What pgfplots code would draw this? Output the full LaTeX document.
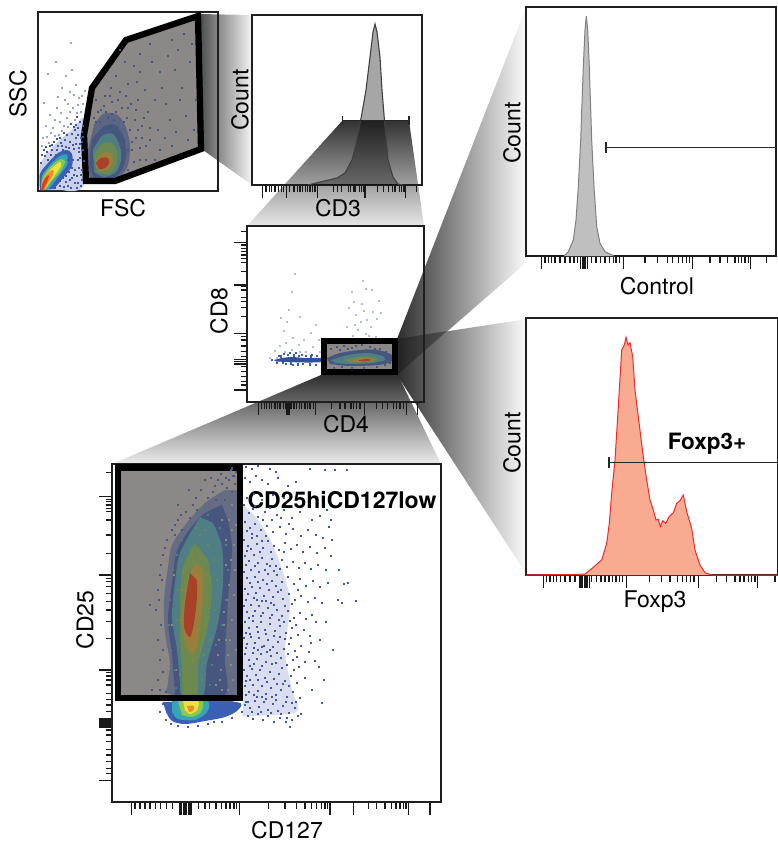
\documentclass[border=0pt]{standalone}
\usepackage{pgfplots}
\pgfplotsset{compat=1.18}
\usepackage{fontspec}
\setmainfont{TeX Gyre Heros}
\definecolor{gatefill}{HTML}{8C8888}
\definecolor{dotblue}{HTML}{3F57A8}
\definecolor{mblue}{HTML}{47567F}
\definecolor{mteal}{HTML}{4F7F84}
\definecolor{mgreen}{HTML}{6C8A50}
\definecolor{molive}{HTML}{9A7E3C}
\definecolor{mred}{HTML}{A8402A}
\definecolor{bblue}{HTML}{3A5FB5}
\definecolor{bcyan}{HTML}{35A5B5}
\definecolor{bgreen}{HTML}{8CC850}
\definecolor{byellow}{HTML}{EFE23A}
\definecolor{borange}{HTML}{F08A2A}
\definecolor{bred}{HTML}{E8391F}
\pgfplotsset{
 panel/.style={scale only axis,y dir=reverse,clip=false,
  axis line style={line width=1.1pt,black!88},
  xtick pos=lower,ytick pos=left,tick align=outside,
  xticklabels={},yticklabels={},
  major tick length=13pt,minor tick length=6.5pt,
  tick style={line width=1.1pt,black!90},
  minor tick style={line width=1.1pt,black!90},
  xtick=\empty,ytick=\empty,
  label style={font=\fontsize{23}{26}\selectfont,anchor=center},
  y label style={rotate=0}},
 blob/.style={draw=none,fill=#1,smooth,tension=0.5,forget plot},
 poly/.style={draw=none,fill=#1,forget plot},
 cloud/.style={only marks,color=#1,mark=square*,mark size=0.55pt,mark options={solid,fill=#1,draw=#1,line width=0pt},forget plot},
 gate/.style={draw=black,line width=6.3pt,line join=miter,miter limit=10,fill=none,forget plot},
 gatebar/.style={draw=black!85,line width=1.1pt,forget plot}}
\begin{document}
\begin{tikzpicture}
\path[use as bounding box] (0,0) rectangle (778pt,-846pt);
% ---- funnels -----
\begin{axis}[at={(0pt,-846pt)},anchor=south west,scale only axis,width=778pt,height=846pt,
 xmin=0,xmax=778,ymin=0,ymax=846,y dir=reverse,hide axis,clip=true]
\addplot[draw=none,left color=black!72,right color=black!4,forget plot] coordinates {(198,14)(252,15)(252,185)(203,150)} -- cycle;
\addplot[draw=none,left color=black!82,middle color=black!48,right color=black!1,forget plot] coordinates {(397,339)(527,5)(527,262)(397,375)} -- cycle;
\addplot[draw=none,left color=black!82,middle color=black!48,right color=black!1,forget plot] coordinates {(397,339)(527,319)(527,575)(397,375)} -- cycle;
\addplot[draw=none,left color=black!86,right color=black!68,forget plot] coordinates {(397,339)(447,331)(397,375)} -- cycle;
\addplot[draw=none,top color=black!80,bottom color=black!9,forget plot] coordinates {(342,121)(409,121)(424,226)(247,226)} -- cycle;
\addplot[draw=none,top color=black!82,bottom color=black!7,forget plot] coordinates {(321,375)(398,375)(441,464)(112,464)} -- cycle;
\end{axis}
% ---- FSC/SSC -----
\begin{axis}[panel,at={(38pt,-191pt)},anchor=south west,width=180pt,height=179pt,
 xmin=38,xmax=218,ymin=12,ymax=191,
 xlabel={FSC},ylabel={SSC},
 x label style={at={(axis cs:123,208)}},y label style={at={(axis cs:18,94)},rotate=0}]
\addplot[poly=gatefill] coordinates {(197,18)(126,40)(92,88)(84,135)(86,181)(115,181)(201,149)} -- cycle;
\addplot[cloud=dotblue!55] coordinates {(48,74)(71,43)(56,62)(62,88)(44,103)(50,115)(57,108)(65,100)(70,92)(76,85)(79,98)(73,108)(67,118)(60,122)(53,128)(47,137)(42,146)(49,143)(55,136)(62,131)(68,127)(75,120)(81,112)(83,104)(85,91)(66,76)(58,97)(72,70)(61,113)(55,120)(70,112)(78,105)(64,126)(46,126)(51,133)(74,95)(82,96)(68,104)(77,113)(59,135)(43,138)};
\addplot[blob=dotblue!28] coordinates {(40,190)(40,165)(50,150)(62,138)(74,128)(84,120)(84,185)(62,190)} -- cycle;
\addplot[cloud=dotblue] coordinates {(78,128)(72,134)(65,140)(58,146)(52,150)(45,156)(41,163)(48,160)(56,155)(63,150)(70,142)(76,138)(82,132)(80,144)(74,149)(68,153)(70,165)(75,170)(78,160)(81,175)(72,178)(66,182)(60,186)(75,183)(81,186)(79,152)(44,150)(50,146)(61,143)(67,135)(74,127)(80,122)(83,126)(77,117)(71,124)(64,133)(57,139)(51,155)(69,172)(73,160)(77,176)(68,186)(63,178)(79,168)(83,150)(84,161)(82,180)(71,188)(77,188)(55,188)(60,181)(66,176)(71,155)(76,144)(81,138)(62,146)(54,142)(46,147)(73,145)(78,135)(69,148)(60,138)(52,145)(42,155)(75,130)(82,142)(80,158)(74,175)(78,183)(70,180)(64,187)(68,160)(72,168)(82,170)(79,148)(66,147)(57,150)(47,152)(83,137)(76,125)};
\addplot[blob=bblue] coordinates {(40,190)(40,174)(48,163)(58,153)(67,150)(72,154)(72,166)(63,178)(54,189)} -- cycle;
\addplot[blob=bcyan] coordinates {(41,190)(42,176)(50,165)(60,156)(67,155)(67,165)(58,177)(49,189)} -- cycle;
\addplot[blob=bgreen] coordinates {(41,190)(43,177)(52,165)(61,159)(65,162)(60,172)(52,181)(46,189)} -- cycle;
\addplot[blob=byellow] coordinates {(42,189)(45,177)(52,168)(60,162)(61,166)(55,175)(49,183)(45,189)} -- cycle;
\addplot[blob=borange] coordinates {(41,190)(44,179)(49,172)(53,170)(53,175)(48,183)(44,190)} -- cycle;
\addplot[blob=bred] coordinates {(41,190)(43,182)(47,176)(49,176)(47,182)(43,190)} -- cycle;
\addplot[cloud=mblue] coordinates {(120,50)(134,66)(150,44)(172,40)(190,62)(182,88)(160,72)(145,90)(128,84)(111,88)(104,106)(118,100)(131,104)(148,112)(166,104)(186,116)(176,132)(158,130)(142,126)(127,118)(112,114)(100,122)(108,126)(118,128)(130,130)(136,138)(124,140)(146,146)(160,150)(172,146)(155,160)(140,160)(128,170)(96,100)(98,112)(94,118)(105,96)(116,76)(137,82)(152,62)(168,56)(184,34)(192,44)(196,100)(194,130)(175,70)(125,62)(140,54)(162,88)(150,128)(122,108)(114,120)(135,120)(132,150)(142,138)(120,168)(106,112)(112,102)(126,96)(138,100)(144,118)(136,110)(120,92)(110,96)(101,110)(96,122)(140,148)(134,162)(128,150)(138,130)(150,140)(146,160)(124,152)(132,142)(116,112)(108,118)(128,108)(124,122)(140,72)(155,100)(170,120)(180,100)(165,138)(188,140)(178,50)};
\addplot[blob=mblue!70!gatefill] coordinates {(94,125)(103,114)(116,114)(125,125)(130,145)(128,165)(120,176)(100,181)(90,178)(88,150)} -- cycle;
\addplot[blob=mblue] coordinates {(92,140)(103,127)(115,125)(124,138)(126,155)(122,170)(112,178)(95,178)(89,165)} -- cycle;
\addplot[blob=mteal] coordinates {(93,150)(102,136)(113,134)(120,147)(121,160)(116,172)(104,177)(94,172)} -- cycle;
\addplot[blob=mgreen] coordinates {(94,155)(102,144)(112,143)(117,153)(116,166)(108,174)(97,172)} -- cycle;
\addplot[blob=molive] coordinates {(95,160)(102,153)(110,153)(113,160)(110,168)(101,171)(96,167)} -- cycle;
\addplot[blob=mred] coordinates {(96,163)(101,158)(108,158)(109,163)(105,168)(99,169)} -- cycle;
\addplot[gate] coordinates {(198,16)(126,40)(92,88)(84,135)(86,181)(115,181)(201,149)} -- cycle;
\end{axis}
% ---- CD3 ----
\begin{axis}[panel,at={(252pt,-185pt)},anchor=south west,width=170pt,height=170pt,
 xmin=252,xmax=422,ymin=15,ymax=185,
 xlabel={CD3},ylabel={Count},
 x label style={at={(axis cs:338,208)}},y label style={at={(axis cs:240,100)}},
 xtick={262.7,286.7,317.3,365,405.3},
 minor xtick={266,269.3,271.7,275,278.3,281.7,283.3,289.3,294,297.3,300,302.7,305.3,307.3,310,312.7,315,333.3,337.3,341.7,348.3,350.7,353.3,355,359.3,361.7,364,377.3,383.3,388.3,392.7,395,399.3,401.7,404,416.7}]
\addplot[draw=black!75,line width=1.1pt,fill=black,fill opacity=.35,forget plot] coordinates {(308,185)(320,182)(337,178)(345,173)(352,160)(357,140)(362,113)(366,90)(370,57)(373,32)(375,24)(377,32)(380,57)(382,90)(385,127)(388,160)(393,177)(398,184)(403,185)};
\addplot[gatebar] coordinates {(342.3,120.5)(409,120.5)};
\addplot[gatebar] coordinates {(342.3,116)(342.3,125)};
\addplot[gatebar] coordinates {(409,116)(409,125)};
\end{axis}
% ---- CD8/CD4 ----
\begin{axis}[panel,at={(247pt,-402pt)},anchor=south west,width=177pt,height=176pt,
 xmin=247,xmax=424,ymin=226,ymax=402,
 xlabel={CD4},ylabel={CD8},
 x label style={at={(axis cs:346,424)}},y label style={at={(axis cs:219,311)}},
 xtick={258.7,287,288.3,289.5,315.7,364.3,406.7,417.3},
 minor xtick={261.7,264.3,266.7,269.3,271.7,275,277.3,280,283.3,285.3,286.7,290,291.7,294,296.7,299.3,301.7,305,307.3,310,313.3,331.7,340,345,351,353.3,356.7,360,376.7,382.3,387.7,393.3,396.7,400,403.3},
 ytick={242.7,285,333.3,359.3,361.7,364,390},
 minor ytick={231.7,245,248.3,251.7,255,258.3,262.7,271.7,286.7,290,297.3,301.7,307.3,316.7,336.7,340,346,351.7,356.7,366.7,371.7,376.7,381.7,385}]
\addplot[cloud=dotblue!40] coordinates {(295,274)(292,292)(289,310)(281,318)(287,322)(300,317)(316,325)(304,340)(311,333)(286,343)(275,351)(280,346)(293,338)(299,345)(284,331)(306,352)(313,347)(319,340)(277,358)(270,358)(320,352)(292,350)(285,352)(300,352)(352,292)(362,304)(366,289)(349,308)(356,315)(367,320)(371,327)(358,330)(347,327)(372,290)(363,281)(379,301)(373,312)(361,322)(353,336)(366,334)(376,337)(369,336)(355,325)(364,311)(354,302)(381,313)(377,319)};
\addplot[blob=bblue!85!black] coordinates {(274,360)(282,358)(292,357)(305,358)(321,358)(321,362)(305,362.5)(288,362)(276,361.5)} -- cycle;
\addplot[cloud=bblue] coordinates {(279,356)(284,354)(290,353)(296,353)(302,355)(312,355)(317,356)(298,364.5)(310,364.5)(286,364)(293,365)(272,360)(316,365)(281,356.5)(288,355)(294,355.5)(299,356)(306,356)(311,356.5)(303,364)(291,363.5)(283,363)(277,363)};
\addplot[poly=gatefill] coordinates {(324,341)(395,341)(395,372)(324,372)} -- cycle;
\addplot[cloud=mblue] coordinates {(331,349)(337,347)(344,346)(352,348)(362,345)(370,347)(380,349)(386,352)(390,356)(334,368)(342,367)(352,368)(364,368)(377,367)(385,365)(390,363)(348,349)(356,346)(366,350)(375,349)(340,350)};
\addplot[blob=mblue] coordinates {(327,358)(340,353)(360,350)(378,350)(392,355)(391,362)(378,365)(350,366)(330,364)} -- cycle;
\addplot[blob=mteal] coordinates {(331,360)(348,355)(368,353)(382,356)(385,360)(372,363)(350,364)(335,363)} -- cycle;
\addplot[blob=mgreen] coordinates {(344,360)(360,356.5)(374,357)(378,360)(368,362.5)(350,362.5)} -- cycle;
\addplot[blob=molive] coordinates {(352,360.5)(362,358)(372,358.5)(373,360.5)(364,362)(354,362)} -- cycle;
\addplot[blob=mred] coordinates {(358,360.5)(366,359)(371,360)(365,361.5)} -- cycle;
\addplot[gate,line width=6pt] coordinates {(324,341)(395,341)(395,372)(324,372)} -- cycle;
\end{axis}
% ---- CD25/CD127 ----
\begin{axis}[panel,at={(112pt,-802pt)},anchor=south west,width=329pt,height=338pt,
 xmin=112,xmax=441,ymin=464,ymax=802,
 xlabel={CD127},ylabel={CD25},
 x label style={at={(axis cs:287,830)}},y label style={at={(axis cs:85,620)}},
 xtick={131.7,180,181.7,183.3,185,186.7,188.3,190,191.7,239.3,330,353.3,408.3,430},
 minor xtick={135,140,145,150,155.7,160.7,166.7,172.7,179.3,198.3,205,209.3,216,221.7,226,230,234,236.7,268.3,285,296.7,305,311.7,316.7,321.7,325,327.3,368.3,376.7,385,391.7,396,400,403.3,406},
 ytick={496.7,575,670,718.3,720,722,724,725,727,780.7},
 minor ytick={472.7,499.3,501.7,505,508.3,511.7,520,535,553.3,578.3,581.7,586.7,593.3,601.7,610,621.7,638.3,672.7,676,680,685,693.3,699.3,705,711.7,730,735,741.7,749.3,755,761.7,768.3,773.3}]
\addplot[poly=gatefill] coordinates {(118,467)(240,467)(240,698)(118,698)} -- cycle;
\addplot[blob=dotblue!20] coordinates {(243,505)(258,520)(275,550)(290,600)(285,650)(292,690)(296,712)(243,716)} -- cycle;
\addplot[cloud=dotblue,mark size=0.75pt] coordinates {
(246,467)(252,469)(258,466)(270,469)(276,472)(310,469)(325,470)
(245,478)(250,482)(256,476)(262,480)(268,484)(278,478)(288,486)(296,482)
(244,505)(249,513)(253,509)(258,517)(265,512)(270,508)(277,515)(284,510)(292,518)(300,512)(312,520)(320,516)(331,520)
(245,522)(250,528)(255,524)(261,530)(267,526)(273,532)(280,527)(286,534)(293,529)(301,536)(308,530)(316,535)(323,538)
(244,540)(248,546)(252,538)(257,544)(263,548)(268,541)(274,546)(279,550)(285,543)(291,549)(297,545)(303,552)(310,547)(317,553)(325,548)(331,556)(332,540)
(245,556)(249,561)(254,555)(258,563)(262,558)(267,564)(272,559)(276,566)(282,560)(287,567)(293,562)(299,568)(305,563)(311,569)(318,565)(326,570)
(244,572)(247,578)(251,570)(255,577)(259,572)(263,580)(268,574)(272,581)(277,575)(282,582)(288,577)(294,584)(300,579)(306,586)(313,581)(320,587)(328,583)
(245,589)(248,594)(252,587)(256,593)(260,588)(264,596)(269,590)(273,597)(278,592)(283,599)(289,594)(295,600)(301,596)(308,602)(315,598)(344,584)(322,603)(342,603)
(244,606)(247,612)(251,605)(255,611)(259,606)(263,613)(268,608)(272,615)(277,610)(282,616)(288,611)(294,618)(300,613)(306,619)(312,615)(316,622)
(245,622)(249,628)(253,621)(257,627)(261,622)(265,630)(270,624)(275,631)(280,626)(286,633)(292,628)(298,635)(304,630)(310,636)
(244,638)(247,644)(251,637)(255,643)(259,638)(264,646)(268,640)(273,647)(278,642)(284,649)(289,644)(295,651)(301,646)(309,652)(311,643)
(245,654)(249,660)(253,653)(257,659)(261,654)(266,662)(271,656)(276,663)(281,658)(287,665)(293,660)(299,667)(305,662)(319,667)
(244,670)(247,676)(252,669)(256,675)(260,670)(265,678)(270,672)(274,679)(279,674)(285,681)(291,676)(297,683)(305,678)(312,690)
(245,686)(249,692)(253,685)(258,691)(262,686)(266,694)(271,688)(276,695)(281,690)(287,697)(293,692)(300,698)(322,703)
(246,702)(250,708)(255,701)(259,707)(264,702)(268,710)(273,704)(278,711)(283,706)(289,713)(295,708)(301,714)(296,702)
(248,716)(253,719)(258,714)(263,720)(268,716)(274,722)(280,718)(286,722)(292,720)(298,716)(290,727)(287,718)
(335,470)(347,470)(327,510)(329,527)(339,570)(348,583)(356,601)(326,622)(333,650)(320,640)(315,661)(324,680)(231,470)(233,476)(338,600)
(247,531)(252,534)(257,536)(262,541)(266,536)(271,552)(247,551)(251,549)(255,566)(260,552)(265,570)(270,566)(274,571)(280,569)(284,552)(246,565)(250,583)(254,598)(258,582)(262,601)(267,584)(271,603)(276,586)(281,590)(285,606)(292,604)(298,590)(246,600)(249,618)(253,616)(257,600)(261,616)(266,601)(270,618)(274,605)(279,620)(284,622)(290,621)(296,625)(246,633)(250,634)(254,648)(258,632)(262,647)(266,634)(270,650)(274,636)(280,637)(285,639)(291,638)(297,657)(246,648)(250,666)(254,664)(258,650)(262,666)(267,652)(272,664)(277,653)(282,668)(288,654)(294,670)(246,681)(250,680)(254,695)(258,680)(262,697)(267,682)(272,697)(277,684)(283,684)(289,686)(246,695)(252,712)(257,697)(261,712)(266,699)(271,713)(276,700)(281,714)(286,702)(292,703)(247,498)(254,494)(262,500)(273,495)(284,498)(255,506)(263,520)(272,520)(281,518)(289,524)};
\addplot[blob=mblue!55!gatefill] coordinates {(225,490)(205,503)(186,524)(172,545)(168,567)(164,600)(165,633)(170,663)(168,683)(172,695)(237,695)(237,490)} -- cycle;
\addplot[cloud=mblue] coordinates {(232,492)(227,488)(215,486)(208,498)(196,498)(186,512)(178,520)(172,530)(165,548)(161,565)(158,590)(156,610)(158,640)(160,660)(158,680)(152,690)(150,605)(178,505)(189,490)(205,480)(221,474)(234,476)(225,500)(216,500)(162,580)(229,480)(235,484)(222,484)(213,492)(201,490)(193,505)(181,515)(175,535)(167,540)(163,555)(160,575)(159,600)(161,625)(163,650)(163,672)(160,690)(166,692)(197,510)(190,518)(182,530)(175,525)(232,468.5)(236,472)(226,478)(218,480)(211,478)};
\addplot[blob=mblue] coordinates {(222,505)(200,517)(178,548)(172,583)(168,620)(172,655)(175,690)(178,695)(225,695)(225,660)(228,600)(232,550)(228,520)} -- cycle;
\addplot[cloud=gatefill] coordinates {(226,540)(231,560)(229,585)(224,612)(226,640)(231,665)(228,690)(221,670)(224,625)(232,620)(233,680)(236,650)(234,595)(229,520)(232,530)(222,520)(219,640)(220,680)(235,570)(218,655)(216,685)(174,575)(172,625)(176,670)(227,600)(230,640)(234,545)(226,565)(222,690)(228,655)(232,505)(236,525)};
\addplot[cloud=mteal] coordinates {(196,513)(188,525)(182,540)(177,555)(173,570)(170,600)(169,625)(171,650)(175,670)(176,688)(210,685)(212,665)(216,645)(222,625)(226,600)(228,570)(226,545)(220,528)(208,515)(202,510)};
\addplot[blob=mteal] coordinates {(200,517)(180,553)(175,583)(172,617)(177,650)(180,683)(182,695)(203,695)(207,663)(218,623)(223,583)(222,547)(213,523)} -- cycle;
\addplot[cloud=mgreen] coordinates {(200,535)(190,550)(182,560)(178,590)(177,620)(178,650)(180,675)(202,680)(204,655)(210,640)(215,610)(217,580)(214,560)(208,545)(196,528)(205,530)};
\addplot[blob=mgreen] coordinates {(195,543)(183,567)(180,600)(180,637)(182,667)(183,695)(197,695)(198,663)(207,630)(212,590)(208,560)} -- cycle;
\addplot[cloud=molive] coordinates {(192,555)(186,570)(182,590)(181,620)(185,645)(193,660)(200,650)(205,625)(207,600)(207,575)(200,558)};
\addplot[blob=molive] coordinates {(195,563)(188,580)(183,607)(183,633)(190,653)(197,647)(202,610)(203,583)(202,567)} -- cycle;
\addplot[blob=mred] coordinates {(190,573)(185,603)(184,627)(190,637)(194,623)(197,597)(197,580)} -- cycle;
\addplot[cloud=bblue] coordinates {(160,712)(166,720)(171,724)(178,726)(188,727)(198,726)(208,724)(222,722)(232,718)(242,712)(245,705)(248,702)(163,704)(214,722)};
\addplot[blob=bblue] coordinates {(163,702)(236,702)(238,710)(225,717)(205,721)(185,724)(172,721)(166,712)} -- cycle;
\addplot[blob=bcyan] coordinates {(172,701)(207,701)(207,712)(195,720)(178,719)(172,712)} -- cycle;
\addplot[blob=bgreen] coordinates {(178,701)(202,701)(201,712)(192,717)(182,715)} -- cycle;
\addplot[blob=byellow] coordinates {(183,701)(198,701)(197,710)(190,714)(185,710)} -- cycle;
\addplot[blob=borange] coordinates {(187,706)(194,706)(193,711)(189,712)} -- cycle;
\addplot[gate] coordinates {(118,467.5)(240,467.5)(240,698)(118,698)} -- cycle;
\node[font=\fontsize{23}{26}\selectfont\bfseries,anchor=center] at (axis cs:342,500) {CD25hiCD127low};
\end{axis}
% ---- Control ----
\begin{axis}[panel,at={(526pt,-256pt)},anchor=south west,width=250pt,height=249pt,
 xmin=526,xmax=776,ymin=7,ymax=256,
 xlabel={Control},ylabel={Count},
 x label style={at={(axis cs:657,286)}},y label style={at={(axis cs:512,133)}},
 xtick={541.7,580.7,582.3,584,585.7,587.3,623.3,692.3,750.7},
 minor xtick={545,548.3,551.7,555,560,565,570,574,577.3,591.7,596,600.7,605,609.3,613.3,616,619.3,645,657.7,667.3,672.7,678.3,682.7,686.7,689.3,710,720,727.3,735,738.3,741.7,745,748.3,766.7}]
\addplot[draw=black!50,line width=1pt,fill=black!25,forget plot] coordinates {(564,256)(568.3,251.7)(573.3,240)(576,220)(578.3,186.7)(580.7,140)(583.3,66.7)(585,30)(586.3,16)(587.7,30)(589.3,66.7)(591.7,140)(594,186.7)(596.7,226.7)(600,243.3)(605,251.7)(614,256)};
\addplot[gatebar] coordinates {(606,147.7)(776,147.7)};
\addplot[gatebar] coordinates {(606,142)(606,153)};
\end{axis}
% ---- Foxp3 ----
\begin{axis}[panel,at={(526pt,-575pt)},anchor=south west,width=252pt,height=257pt,
 xmin=526,xmax=778,ymin=318,ymax=575,
 xlabel={Foxp3},ylabel={Count},
 x label style={at={(axis cs:655,602)}},y label style={at={(axis cs:512,443)}},
 xtick={543.3,579.3,581,582.7,584.3,586,587.7,589.3,626.7,698.3,757.7},
 minor xtick={546.7,550,553.3,556.7,560.7,565,570,575,591.7,596.7,601,605,609,612.7,616,619.3,622.7,649.3,661.7,670,677.7,682.3,686.7,690.7,694,716.7,726.7,735,740,744,748.3,751.7,755,775}]
\addplot[draw={rgb,255:red,238;green,42;blue,42},line width=1pt,fill={rgb,255:red,248;green,171;blue,144},forget plot] coordinates {(526,575)(573.3,574.5)(585,574)(593.3,567.3)(601.7,560)(606.7,543.3)(609.3,523.3)(611.7,493.3)(615,460)(618.3,406.7)(621.7,350)(624.3,345)(626,337.3)(628,345)(630,342.7)(632.7,356.7)(635,390)(638.3,416.7)(643.3,456.7)(646.7,480)(650,500)(653.3,510)(656,520)(658.3,519.3)(660.3,526.7)(662.7,520.7)(665.7,523.3)(669,516.7)(673.3,512.7)(676.7,503.3)(680,500.7)(683.3,495)(686.7,511.7)(691.7,528.3)(695,550)(700,565)(705,572.7)(711.7,575)(778,575)};
\addplot[gatebar] coordinates {(609,462.7)(778,462.7)};
\addplot[gatebar] coordinates {(609,457)(609,468)};
\node[font=\fontsize{22.5}{26}\selectfont\bfseries,anchor=center] at (axis cs:707,444) {Foxp3+};
\end{axis}
\end{tikzpicture}
\end{document}
